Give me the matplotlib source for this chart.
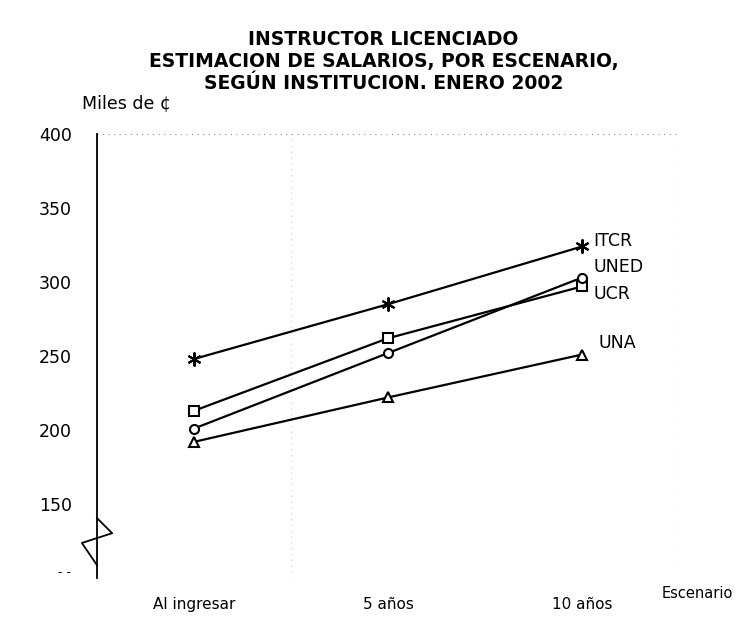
import matplotlib
matplotlib.use('Agg')
import matplotlib.pyplot as plt

plt.rcParams['font.family'] = ['DejaVu Sans']

escenarios = ['Al ingresar', '5 años', '10 años']
itcr = [248, 285, 324]
ucr = [213, 262, 297]
uned = [201, 252, 303]
una = [192, 222, 251]
y_ticks = [150, 200, 250, 300, 350, 400]

fig = plt.figure(figsize=(7.52, 6.29), dpi=100)
ax = fig.add_axes([0.129, 0.081, 0.774, 0.706])

x = range(len(escenarios))
series = [
    ('ITCR', itcr, (6, 2, 0), 10),
    ('UCR', ucr, 's', 6.5),
    ('UNED', uned, 'o', 6.5),
    ('UNA', una, '^', 6.5),
]
for name, vals, mk, ms in series:
    ax.plot(x, vals, color='black', lw=1.6, marker=mk, ms=ms,
            mfc='white', mec='black', mew=1.5, zorder=3)

# series labels at the right end of each line
offsets = {'ITCR': 4, 'UNED': 7, 'UCR': -5, 'UNA': 8}
dx = {'ITCR': 0.06, 'UNED': 0.06, 'UCR': 0.06, 'UNA': 0.085}
for name, vals, mk, ms in series:
    ax.text(2 + dx[name], vals[-1] + offsets[name], name, fontsize=12.5,
            va='center', ha='left')

ax.set_xlim(-0.5, 2.5)
ax.set_ylim(100, 400)
ax.set_yticks(y_ticks)
ax.set_yticklabels([str(v) for v in y_ticks], fontsize=12.5)
ax.set_xticks(list(x))
ax.set_xticklabels(escenarios, fontsize=11)
ax.tick_params(axis='y', length=0, pad=18)
ax.tick_params(axis='x', length=0, pad=14)

for s in ['top', 'right', 'bottom']:
    ax.spines[s].set_visible(False)
ax.spines['left'].set_linewidth(1.3)

# faint dotted frame / grid as in the scanned original
ax.axhline(400, color='0.55', lw=0.8, ls=(0, (1, 4)))
ax.axvline(2.5, color='0.55', lw=0.8, ls=(0, (1, 4)))
ax.axvline(0.5, color='0.7', lw=0.6, ls=(0, (1, 6)))

# broken-axis zigzag on the y axis
zig_x = [0.0, 0.026, -0.026, 0.0]
zig_y = [0.135, 0.101, 0.079, 0.029]
ax.plot(zig_x, zig_y, color='black', lw=1.3, transform=ax.transAxes,
        clip_on=False)
ax.text(-0.045, 0.012, '- -', transform=ax.transAxes, fontsize=9,
        ha='right', va='center')

fig.text(0.51, 0.902, 'INSTRUCTOR LICENCIADO\nESTIMACION DE SALARIOS, POR ESCENARIO,\nSEGÚN INSTITUCION. ENERO 2002',
         ha='center', va='center', fontsize=13.5, fontweight='bold',
         linespacing=1.2)
fig.text(0.109, 0.836, 'Miles de ¢', fontsize=12.5, ha='left', va='center')
fig.text(0.88, 0.057, 'Escenario', fontsize=10.5, ha='left', va='center')

fig.savefig('out.png', dpi=100)
